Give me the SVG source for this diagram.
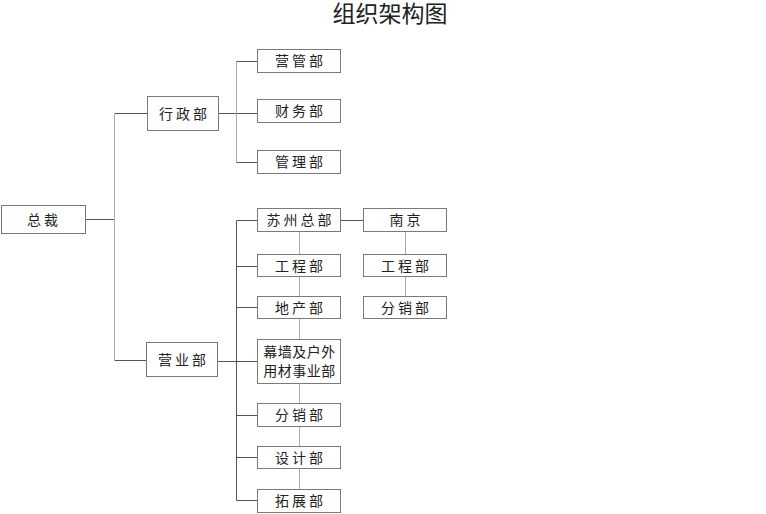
<svg xmlns="http://www.w3.org/2000/svg" width="766" height="514" viewBox="0 0 766 514">
<style>
.b{fill:#fff;stroke:#7a7a7a;stroke-width:1}
.t{font-family:"Noto Sans CJK SC","Noto Sans CJK JP",sans-serif;font-size:14px;fill:#222;text-anchor:middle;letter-spacing:3px}
.t2{letter-spacing:0.5px}
.d{stroke:#555;stroke-width:1;fill:none}
.l{stroke:#aaa;stroke-width:1;fill:none}
</style>
<rect width="766" height="514" fill="#fff"/>
<text x="390" y="22" font-family="'Noto Sans CJK SC',sans-serif" font-size="23" fill="#222" text-anchor="middle">组织架构图</text>
<g id="connectors">
<path class="d" d="M85.5 219.5H114.5M114.5 113.5H147M114.5 360.5H146"/>
<path class="l" d="M114.5 113.5V360.5"/>
<path class="d" d="M218 113.5H257M236.5 61.5H257M236.5 162.5H257"/>
<path class="l" d="M236.5 61.5V162.5"/>
<path class="d" d="M218 361.5H257M236.5 220.5H257M236.5 266.5H257M236.5 307.5H257M236.5 415.5H257M236.5 457.5H257M236.5 500.5H257"/>
<path class="d" d="M236.5 220.5V500.5"/>
<path class="l" d="M299.5 232V489"/>
<path class="d" d="M341 220.5H363"/>
<path class="l" d="M405.5 232V296"/>
</g>
<g id="n-zongcai"><rect class="b" x="1.5" y="205.5" width="84" height="28"/><text class="t" x="44" y="224.5" font-size="16">总裁</text></g>
<g id="n-xingzheng"><rect class="b" x="147.5" y="96.5" width="71" height="34"/><text class="t" x="184.5" y="118.5">行政部</text></g>
<g id="n-yingguan"><rect class="b" x="257.5" y="49.5" width="83" height="23"/><text class="t" x="300.5" y="66">营管部</text></g>
<g id="n-caiwu"><rect class="b" x="257.5" y="99.5" width="83" height="23"/><text class="t" x="300.5" y="116">财务部</text></g>
<g id="n-guanli"><rect class="b" x="257.5" y="150.5" width="83" height="23"/><text class="t" x="300.5" y="167">管理部</text></g>
<g id="n-yingye"><rect class="b" x="146.5" y="342.5" width="71" height="34"/><text class="t" x="183.5" y="364.5">营业部</text></g>
<g id="n-suzhou"><rect class="b" x="257.5" y="208.5" width="83" height="23"/><text class="t" x="300.5" y="225">苏州总部</text></g>
<g id="n-gongcheng"><rect class="b" x="257.5" y="254.5" width="83" height="22"/><text class="t" x="300.5" y="270.5">工程部</text></g>
<g id="n-dichan"><rect class="b" x="257.5" y="296.5" width="83" height="22"/><text class="t" x="300.5" y="312.5">地产部</text></g>
<g id="n-muqiang"><rect class="b" x="257.5" y="339.5" width="83" height="44"/><text class="t t2" x="299.5" y="357">幕墙及户外</text><text class="t t2" x="299.5" y="376">用材事业部</text></g>
<g id="n-fenxiao"><rect class="b" x="257.5" y="403.5" width="83" height="23"/><text class="t" x="300.5" y="420">分销部</text></g>
<g id="n-sheji"><rect class="b" x="257.5" y="446.5" width="83" height="22"/><text class="t" x="300.5" y="462.5">设计部</text></g>
<g id="n-tuozhan"><rect class="b" x="257.5" y="489.5" width="83" height="23"/><text class="t" x="300.5" y="506">拓展部</text></g>
<g id="n-nanjing"><rect class="b" x="363.5" y="208.5" width="83" height="23"/><text class="t" x="406.5" y="225">南京</text></g>
<g id="n-nj-gongcheng"><rect class="b" x="363.5" y="254.5" width="83" height="22"/><text class="t" x="406.5" y="270.5">工程部</text></g>
<g id="n-nj-fenxiao"><rect class="b" x="363.5" y="296.5" width="83" height="22"/><text class="t" x="406.5" y="312.5">分销部</text></g>
</svg>
